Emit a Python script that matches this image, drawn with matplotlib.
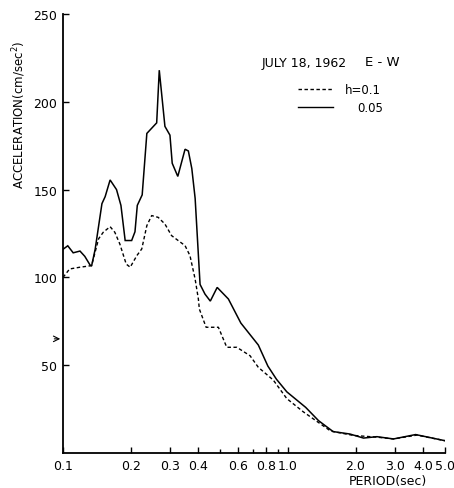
import matplotlib
matplotlib.use("Agg")
import matplotlib.pyplot as plt
from matplotlib.ticker import FixedLocator, NullFormatter

# Period (sec) and acceleration (cm/sec^2)
period_h005 = [0.100, 0.105, 0.111, 0.119, 0.125, 0.132, 0.134, 0.139, 0.149, 0.154,
               0.162, 0.173, 0.181, 0.189, 0.202, 0.209, 0.214, 0.225, 0.236, 0.261,
               0.268, 0.284, 0.299, 0.306, 0.324, 0.349, 0.361, 0.374, 0.387, 0.407,
               0.428, 0.452, 0.485, 0.544, 0.618, 0.739, 0.815, 0.89, 0.99, 1.2,
               1.37, 1.59, 1.89, 2.17, 2.49, 2.95, 3.7, 5.0]
accel_h005 = [116, 118, 114, 115, 112, 107, 106.5, 116, 142, 146,
              155.5, 150, 141, 121, 121, 126, 141, 147, 182, 188,
              218, 186, 181, 165, 157.5, 173, 172, 162, 145, 96,
              90.5, 86.5, 94.3, 87.7, 74, 61.5, 49.5, 42, 34.8, 26,
              18.4, 12.2, 10.8, 8.5, 9.3, 8, 10.5, 7]

period_h01 = [0.100, 0.107, 0.119, 0.134, 0.144, 0.151, 0.162, 0.170, 0.179, 0.191,
              0.199, 0.213, 0.224, 0.236, 0.248, 0.265, 0.284, 0.304, 0.326, 0.349,
              0.367, 0.387, 0.400, 0.404, 0.433, 0.491, 0.535, 0.593, 0.679, 0.739,
              0.862, 0.989, 1.17, 1.55, 1.96, 2.5, 2.95, 3.75, 5.0]
accel_h01 = [100, 104.8, 105.8, 106.7, 122, 125.7, 128.9, 125.7, 119, 107.6,
             105.8, 112.4, 116.2, 129.5, 135.2, 134.2, 130.4, 123.8, 120.9, 118.1,
             112.4, 99, 87.7, 82, 71.6, 71.6, 60.2, 60.2, 55.4, 48.8,
             41.5, 31, 23.5, 12.5, 10, 9, 8, 10.2, 7]

x_major = [0.1, 0.2, 0.3, 0.4, 0.6, 0.8, 1.0, 2.0, 3.0, 4.0, 5.0]
x_labels = ["0.1", "0.2", "0.3", "0.4", "0.6", "0.8", "1.0", "2.0", "3.0", "4.0", "5.0"]
x_minor = [0.5, 0.7, 0.9]
y_ticks = [50, 100, 150, 200, 250]
y_labels = ["50", "100", "150", "200", "250"]

fig = plt.figure(figsize=(4.54, 4.89), dpi=100)
ax = fig.add_axes([63/454, 1-454/489, (445-63)/454, (454-15)/489])

ax.plot(period_h005, accel_h005, color="black", lw=1.1, solid_joinstyle="miter")
ax.plot(period_h01, accel_h01, color="black", lw=1.0, linestyle=(0, (2.5, 1.8)))

ax.set_xscale("log")
ax.set_xlim(0.1, 5.0)
ax.set_ylim(0, 250)
ax.xaxis.set_major_locator(FixedLocator(x_major))
ax.xaxis.set_minor_locator(FixedLocator(x_minor))
ax.xaxis.set_minor_formatter(NullFormatter())
ax.set_xticklabels(x_labels)
ax.set_yticks(y_ticks)
ax.set_yticklabels(y_labels)

for s in ["top", "right"]:
    ax.spines[s].set_visible(False)
for s in ["left", "bottom"]:
    ax.spines[s].set_linewidth(1.3)

ax.tick_params(axis="both", which="both", direction="in", length=4, width=1.0,
               labelsize=9, pad=4)
ax.tick_params(axis="x", which="minor", length=3)

fig.text(19/454, 1-115/489, "ACCELERATION(cm/sec$^2$)", rotation=90,
         ha="center", va="center", fontsize=8.5)
fig.text(427/454, 1-482/489, "PERIOD(sec)", ha="right", va="center", fontsize=9)

fig.text(262/454, 1-63/489, "JULY 18, 1962", ha="left", va="center", fontsize=9)
fig.text(400/454, 1-63/489, "E - W", ha="right", va="center", fontsize=9.5)
fig.add_artist(plt.Line2D([298/454, 333/454], [1-90/489, 1-90/489], color="black",
                          lw=1.0, linestyle=(0, (2.5, 1.8)), transform=fig.transFigure))
fig.add_artist(plt.Line2D([298/454, 333/454], [1-108/489, 1-108/489], color="black",
                          lw=1.0, transform=fig.transFigure))
fig.text(345/454, 1-90/489, "h=0.1", ha="left", va="center", fontsize=8.5)
fig.text(357/454, 1-108/489, "0.05", ha="left", va="center", fontsize=8.5)

ax.annotate("", xy=(0.1, 65), xytext=(-0.03, 65),
            textcoords=("axes fraction", "data"),
            arrowprops=dict(arrowstyle="->", lw=0.8, color="black"),
            annotation_clip=False)

fig.savefig("out.png", dpi=100)
